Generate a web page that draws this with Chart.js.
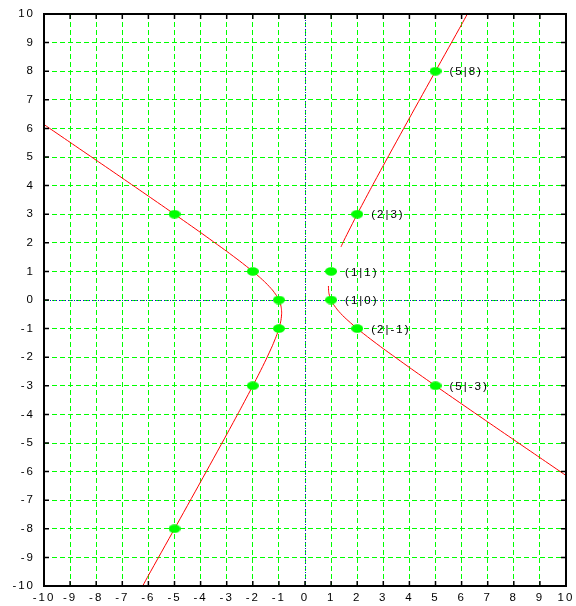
<!DOCTYPE html>
<html lang="de">
<head>
<meta charset="UTF-8">
<title>Hyperbel x² + xy − y² = 1</title>
<script src="https://cdn.jsdelivr.net/npm/chart.js"></script>
<style>
    body { margin: 0; background: #fff; }
</style>
</head>
<body>
<canvas id="grafico" width="576" height="606"></canvas>
<script>
// Achsen
const xTicks = [-10, -9, -8, -7, -6, -5, -4, -3, -2, -1, 0, 1, 2, 3, 4, 5, 6, 7, 8, 9, 10];
const yTicks = [-10, -9, -8, -7, -6, -5, -4, -3, -2, -1, 0, 1, 2, 3, 4, 5, 6, 7, 8, 9, 10];

// linker Ast (durchgehend)
const leftX = [-10, -9, -8, -7, -6, -5, -4, -3, -2.5, -2, -1.75, -1.5, -1.25, -1.1, -1.05, -1, -0.95, -0.92, -0.905, -0.894,
               -0.905, -0.92, -0.95, -1, -1.05, -1.1, -1.25, -1.5, -1.75, -2, -2.5, -3, -4, -5, -6, -6.22];
const leftY = [6.136, 5.512, 4.888, 4.262, 3.633, 3, 2.359, 1.702, 1.36, 1, 0.807, 0.596, 0.351, 0.166, 0.09, 0, -0.117, -0.219, -0.3, -0.447,
               -0.594, -0.701, -0.833, -1, -1.14, -1.266, -1.601, -2.096, -2.557, -3, -3.86, -4.702, -6.359, -8, -9.633, -10];

// rechter Ast, unteres Stueck
const rightLowX = [0.897, 0.905, 0.92, 0.95, 1, 1.1, 1.25, 1.5, 2, 2.5, 3, 4, 5, 6, 7, 8, 9, 10];
const rightLowY = [0.49, 0.3, 0.219, 0.117, 0, -0.166, -0.351, -0.596, -1, -1.36, -1.702, -2.359, -3, -3.633, -4.262, -4.888, -5.512, -6.136];

// rechter Ast, oberes Stueck
const rightUpX = [1.38, 1.5, 2, 2.5, 3, 4, 5, 6, 6.22];
const rightUpY = [1.86, 2.096, 3, 3.86, 4.702, 6.359, 8, 9.633, 10];

// markierte Punkte
const markX = [5, 2, 1, 1, 2, 5, -5, -2, -1, -1, -2, -5];
const markY = [8, 3, 1, 0, -1, -3, 3, 1, 0, -1, -3, -8];
const markLabel = ['(5|8)', '(2|3)', '(1|1)', '(1|0)', '(2|-1)', '(5|-3)', '', '', '', '', '', ''];

function pontos(xs, ys) {
    return xs.map((x, i) => ({ x: x, y: ys[i] }));
}

// gruene Ellipse als Punktsymbol
const ellipse = document.createElement('canvas');
ellipse.width = 12;
ellipse.height = 9;
const ectx = ellipse.getContext('2d');
ectx.fillStyle = '#00ff00';
ectx.beginPath();
ectx.ellipse(6, 4.5, 6, 4.2, 0, 0, Math.PI * 2);
ectx.fill();

const fonte = { family: "'Liberation Sans', Arial, sans-serif", size: 11.5 };
const espaco = 2; // Zeichenabstand in px

function curva(xs, ys) {
    return {
        data: pontos(xs, ys),
        showLine: true,
        borderColor: '#ff0000',
        borderWidth: 1,
        pointRadius: 0,
        tension: 0.2,
        order: 1
    };
}

// breite Schrift wie im gnuplot-png
const letras = {
    id: 'letras',
    beforeDraw(chart) {
        chart.ctx.letterSpacing = espaco + 'px';
    }
};

// Nullachsen blau gepunktet
const eixos = {
    id: 'eixos',
    beforeDatasetsDraw(chart) {
        const { ctx, chartArea: a, scales: { x, y } } = chart;
        ctx.save();
        ctx.strokeStyle = '#1010d0';
        ctx.lineWidth = 1;
        ctx.setLineDash([1, 2]);
        const x0 = Math.round(x.getPixelForValue(0)) + 0.5;
        const y0 = Math.round(y.getPixelForValue(0)) + 0.5;
        ctx.beginPath();
        ctx.moveTo(x0, a.top);
        ctx.lineTo(x0, a.bottom);
        ctx.moveTo(a.left, y0);
        ctx.lineTo(a.right, y0);
        ctx.stroke();
        ctx.restore();
    }
};

// Rahmen, Teilstriche nach innen, Punktbeschriftungen
const moldura = {
    id: 'moldura',
    afterDraw(chart) {
        const { ctx, chartArea: a, scales: { x, y } } = chart;
        ctx.save();
        ctx.strokeStyle = '#000';
        ctx.lineWidth = 1.5;
        ctx.beginPath();
        xTicks.forEach(v => {
            const px = x.getPixelForValue(v);
            ctx.moveTo(px, a.top);
            ctx.lineTo(px, a.top + 5);
            ctx.moveTo(px, a.bottom);
            ctx.lineTo(px, a.bottom - 5);
        });
        yTicks.forEach(v => {
            const py = y.getPixelForValue(v);
            ctx.moveTo(a.left, py);
            ctx.lineTo(a.left + 5, py);
            ctx.moveTo(a.right, py);
            ctx.lineTo(a.right - 5, py);
        });
        ctx.stroke();
        ctx.lineWidth = 2;
        ctx.strokeRect(a.left, a.top, a.right - a.left, a.bottom - a.top);

        ctx.fillStyle = '#000';
        ctx.font = fonte.size + 'px ' + fonte.family;
        ctx.letterSpacing = espaco + 'px';
        ctx.textAlign = 'left';
        ctx.textBaseline = 'middle';
        markX.forEach((mx, i) => {
            if (!markLabel[i]) return;
            ctx.fillText(markLabel[i], x.getPixelForValue(mx) + 14, y.getPixelForValue(markY[i]) + 1);
        });
        ctx.restore();
    }
};

function escala(valores, lado) {
    return {
        type: 'linear',
        min: -10,
        max: 10,
        afterBuildTicks: s => { s.ticks = valores.map(v => ({ value: v })); },
        afterFit: s => {
            if (lado === 'x') s.height = 20; else s.width = 44;
            // Rand kommt nur aus layout.padding
            s.paddingLeft = s.paddingRight = s.paddingTop = s.paddingBottom = 0;
        },
        grid: { color: '#00ff00', lineWidth: 1, drawTicks: false },
        border: { display: false, dash: [5, 3] },
        ticks: {
            font: fonte,
            color: '#000',
            padding: lado === 'x' ? 5 : 9,
            autoSkip: false,
            maxRotation: 0,
            callback: v => String(v)
        }
    };
}

new Chart(document.getElementById('grafico'), {
    type: 'scatter',
    data: {
        datasets: [
            {
                data: pontos(markX, markY),
                pointStyle: ellipse,
                order: 0
            },
            curva(leftX, leftY),
            curva(rightLowX, rightLowY),
            curva(rightUpX, rightUpY)
        ]
    },
    options: {
        responsive: false,
        animation: false,
        layout: { padding: { top: 14, right: 10, left: 0, bottom: 0 } },
        plugins: { legend: { display: false }, tooltip: { enabled: false } },
        scales: { x: escala(xTicks, 'x'), y: escala(yTicks, 'y') }
    },
    plugins: [letras, eixos, moldura]
});
</script>
</body>
</html>
